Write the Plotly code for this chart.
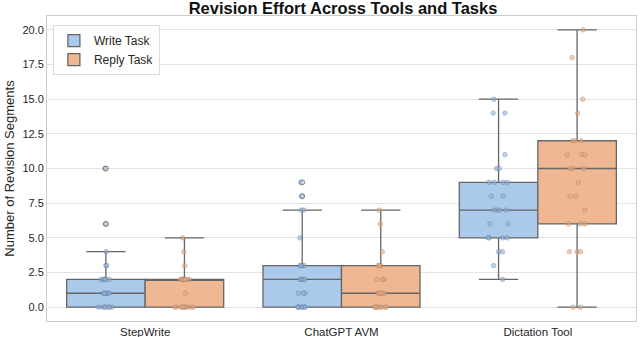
import plotly.graph_objects as go

tools = ["StepWrite", "ChatGPT AVM", "Dictation Tool"]
task_names = ["Write Task", "Reply Task"]

stepwrite_write = [0, 0, 0, 0, 0, 0, 0, 1, 1, 1, 1, 1, 1, 2, 2, 2, 2, 2, 2, 3, 3, 4, 6, 10]
stepwrite_reply = [0, 0, 0, 0, 0, 0, 0, 0, 0, 0, 1, 2, 2, 2, 2, 2, 2, 2, 2, 2, 2, 3, 4, 5]
chatgpt_write = [0, 0, 0, 0, 0, 0, 0, 1, 1, 1, 2, 2, 2, 2, 2, 3, 3, 3, 3, 5, 7, 7, 8, 9]
chatgpt_reply = [0, 0, 0, 0, 0, 0, 0, 0, 1, 1, 1, 1, 1, 1, 2, 2, 2, 3, 3, 3, 3, 4, 6, 7]
dictation_write = [2, 3, 4, 4, 5, 5, 5, 5, 6, 6, 7, 7, 7, 7, 8, 8, 9, 9, 9, 9, 10, 10, 11, 14, 14, 15]
dictation_reply = [0, 0, 4, 4, 4, 6, 6, 6, 7, 8, 8, 9, 10, 10, 10, 11, 11, 11, 12, 12, 12, 14, 15, 18, 20]

y_ticks = [0.0, 2.5, 5.0, 7.5, 10.0, 12.5, 15.0, 17.5, 20.0]

write_sets = [stepwrite_write, chatgpt_write, dictation_write]
reply_sets = [stepwrite_reply, chatgpt_reply, dictation_reply]

box_fill = ["#abc9ea", "#efb792"]
point_col = ["#8fb3e0", "#f0a576"]
point_edge = ["#6a7c98", "#a88872"]
FONT = "Liberation Sans, Arial, sans-serif"


def flatten(sets):
    xs, ys = [], []
    for tool, vals in zip(tools, sets):
        xs += [tool] * len(vals)
        ys += list(vals)
    return xs, ys


fig = go.Figure()
for i, (name, sets) in enumerate(zip(task_names, [write_sets, reply_sets])):
    xs, ys = flatten(sets)
    grp = "g%d" % i
    fig.add_trace(go.Box(
        x=xs, y=ys, name=name, offsetgroup=grp, alignmentgroup="a",
        fillcolor=box_fill[i],
        line=dict(color="#666666", width=1.3),
        whiskerwidth=0.5,
        boxpoints="all", jitter=0.3, pointpos=0,
        marker=dict(size=4.5, color=point_col[i], opacity=0.6,
                    line=dict(color=point_edge[i], width=0.8)),
        hoverinfo="skip",
    ))
    fig.add_trace(go.Box(
        x=xs, y=ys, name=name + " outliers", offsetgroup=grp, alignmentgroup="a",
        fillcolor="rgba(0,0,0,0)",
        line=dict(color="rgba(0,0,0,0)", width=0),
        boxpoints="outliers", jitter=0, pointpos=0,
        marker=dict(size=5, symbol="circle-open", color="#666666",
                    line=dict(width=0.8)),
        showlegend=False, hoverinfo="skip",
    ))

fig.update_layout(
    width=640, height=337,
    margin=dict(l=47, r=4, t=16, b=16),
    paper_bgcolor="white", plot_bgcolor="white",
    boxmode="group", boxgap=0.2, boxgroupgap=0,
    font=dict(family=FONT, size=11, color="#262626"),
    title=dict(text="<b>Revision Effort Across Tools and Tasks</b>",
               x=0.536, xanchor="center", y=0.976, yanchor="middle",
               yref="container", automargin=False,
               font=dict(size=16.5, color="#111111")),
    legend=dict(x=0.01, y=0.97, xanchor="left", yanchor="top",
                bgcolor="rgba(255,255,255,0.85)", bordercolor="#dcdcdc",
                borderwidth=1, font=dict(size=12, color="#262626"),
                tracegroupgap=0, itemwidth=30),
    showlegend=True,
)
fig.update_xaxes(
    type="category", categoryorder="array", categoryarray=tools,
    range=[-0.5, 2.5], showgrid=False, showline=True, mirror=True,
    linecolor="#cccccc", linewidth=1, ticks="", tickfont=dict(size=11.5),
    zeroline=False, automargin=False,
)
fig.update_yaxes(
    range=[-1, 21], tickvals=y_ticks, tickformat=".1f",
    showgrid=True, gridcolor="#e3e3e3", gridwidth=1,
    showline=True, mirror=True, linecolor="#cccccc", linewidth=1,
    zeroline=False, ticks="", tickfont=dict(size=11), automargin=False,
    title=dict(text="Number of Revision Segments", font=dict(size=13), standoff=4),
)

fig.write_html("out.html", config={"displayModeBar": False},
               post_script="document.body.style.margin='0';")
